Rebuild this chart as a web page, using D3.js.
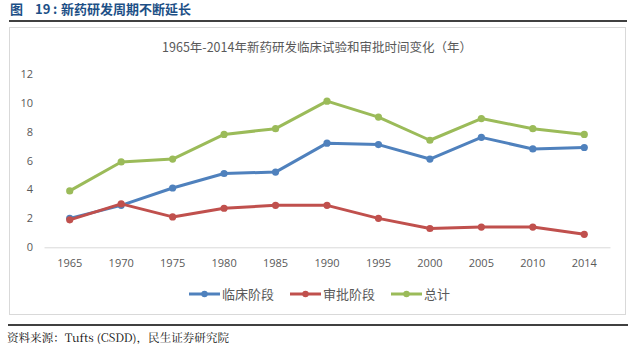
<!DOCTYPE html>
<html>
<head>
<meta charset="utf-8">
<script src="https://cdn.jsdelivr.net/npm/d3@7/dist/d3.min.js"></script>
<style>
  html, body { margin: 0; padding: 0; background: #fff; }
  svg { display: block; }
</style>
</head>
<body>
<svg id="chart" width="639" height="344"></svg>
<script>
// Years on the category axis
const years = ["1965", "1970", "1975", "1980", "1985", "1990", "1995", "2000", "2005", "2010", "2014"];
// Clinical phase duration (years)
const clinical = [2.0, 2.9, 4.1, 5.1, 5.2, 7.2, 7.1, 6.1, 7.6, 6.8, 6.9];
// Approval phase duration (years)
const approval = [1.9, 3.0, 2.1, 2.7, 2.9, 2.9, 2.0, 1.3, 1.4, 1.4, 0.9];
// Total duration (years)
const total = [3.9, 5.9, 6.1, 7.8, 8.2, 10.1, 9.0, 7.4, 8.9, 8.2, 7.8];
const yTicks = [0, 2, 4, 6, 8, 10, 12];
const seriesNames = ["临床阶段", "审批阶段", "总计"];
const seriesColors = ["#4f81bd", "#c0504d", "#9bbb59"];

const series = [clinical, approval, total].map((vals, i) => ({
  name: seriesNames[i], color: seriesColors[i], values: vals
}));

const svg = d3.select("#chart");
const cjk = "'Noto Sans CJK SC', 'Noto Sans', sans-serif";

// Report header: figure label, number, colon and caption
const header = [["图", 10], ["19", 35], [":", 53], ["新药研发周期不断延长", 61]];
header.forEach(([t, hx]) => {
  svg.append("text")
    .attr("x", hx).attr("y", 14)
    .attr("font-family", cjk).attr("font-size", 13).attr("font-weight", "bold")
    .attr("fill", "#1c4f86")
    .text(t);
});
svg.append("line")
  .attr("x1", 9).attr("x2", 627).attr("y1", 21).attr("y2", 21)
  .attr("stroke", "#000").attr("stroke-width", 1.5);

// Chart frame
svg.append("rect")
  .attr("x", 9.5).attr("y", 27.5).attr("width", 616).attr("height", 287)
  .attr("fill", "#fff").attr("stroke", "#d9d9d9").attr("stroke-width", 1);

// Chart title
svg.append("text")
  .attr("x", 317).attr("y", 52)
  .attr("text-anchor", "middle")
  .attr("font-family", cjk).attr("font-size", 12.5)
  .attr("fill", "#595959")
  .text("1965年-2014年新药研发临床试验和审批时间变化（年）");

const x = d3.scaleBand().domain(years).range([44, 610]);
const y = d3.scaleLinear().domain([0, 12]).range([247.3, 73.7]);
const cx = d => x(d) + x.bandwidth() / 2;

// Y axis labels (no axis line, no gridlines)
const yAxis = d3.axisLeft(y).tickValues(yTicks).tickSize(0).tickPadding(0);
const gy = svg.append("g").attr("transform", "translate(33,0)").call(yAxis);
gy.select(".domain").remove();
gy.selectAll("text")
  .attr("font-family", "'Open Sans', 'Liberation Sans', sans-serif")
  .attr("font-size", 11).attr("fill", "#595959");

// X axis
const xAxis = d3.axisBottom(x).tickSize(0).tickPadding(12);
const gx = svg.append("g").attr("transform", `translate(0,${y(0)})`).call(xAxis);
gx.select(".domain").attr("stroke", "#d9d9d9").attr("stroke-width", 1);
gx.selectAll("text")
  .attr("font-family", "'Open Sans', 'Liberation Sans', sans-serif")
  .attr("font-size", 11).attr("fill", "#595959");

// Lines and markers
const line = d3.line().x((d, i) => cx(years[i])).y(d => y(d));
const g = svg.append("g");
series.forEach(s => {
  g.append("path")
    .attr("d", line(s.values))
    .attr("fill", "none").attr("stroke", s.color)
    .attr("stroke-width", 3).attr("stroke-linejoin", "round").attr("stroke-linecap", "round");
  g.selectAll(null).data(s.values).enter().append("circle")
    .attr("cx", (d, i) => cx(years[i])).attr("cy", d => y(d))
    .attr("r", 3.6).attr("fill", s.color);
});

// Legend
const legendX = [189, 290, 391];
const lg = svg.append("g");
series.forEach((s, i) => {
  const lx = legendX[i];
  lg.append("line")
    .attr("x1", lx).attr("x2", lx + 31).attr("y1", 294).attr("y2", 294)
    .attr("stroke", s.color).attr("stroke-width", 3);
  lg.append("circle").attr("cx", lx + 15.5).attr("cy", 294).attr("r", 3.2).attr("fill", s.color);
  lg.append("text")
    .attr("x", lx + 33).attr("y", 298.5)
    .attr("font-family", cjk).attr("font-size", 13).attr("fill", "#595959")
    .text(s.name);
});

// Footer rule and source
svg.append("line")
  .attr("x1", 8).attr("x2", 628).attr("y1", 325).attr("y2", 325)
  .attr("stroke", "#000").attr("stroke-width", 1.5);
svg.append("text")
  .attr("x", 7).attr("y", 342)
  .attr("font-family", "'Noto Serif CJK SC', 'Noto Sans CJK SC', serif").attr("font-size", 11.5)
  .attr("fill", "#111")
  .attr("textLength", 222).attr("lengthAdjust", "spacingAndGlyphs")
  .text("资料来源：Tufts (CSDD)，民生证券研究院");
</script>
</body>
</html>
